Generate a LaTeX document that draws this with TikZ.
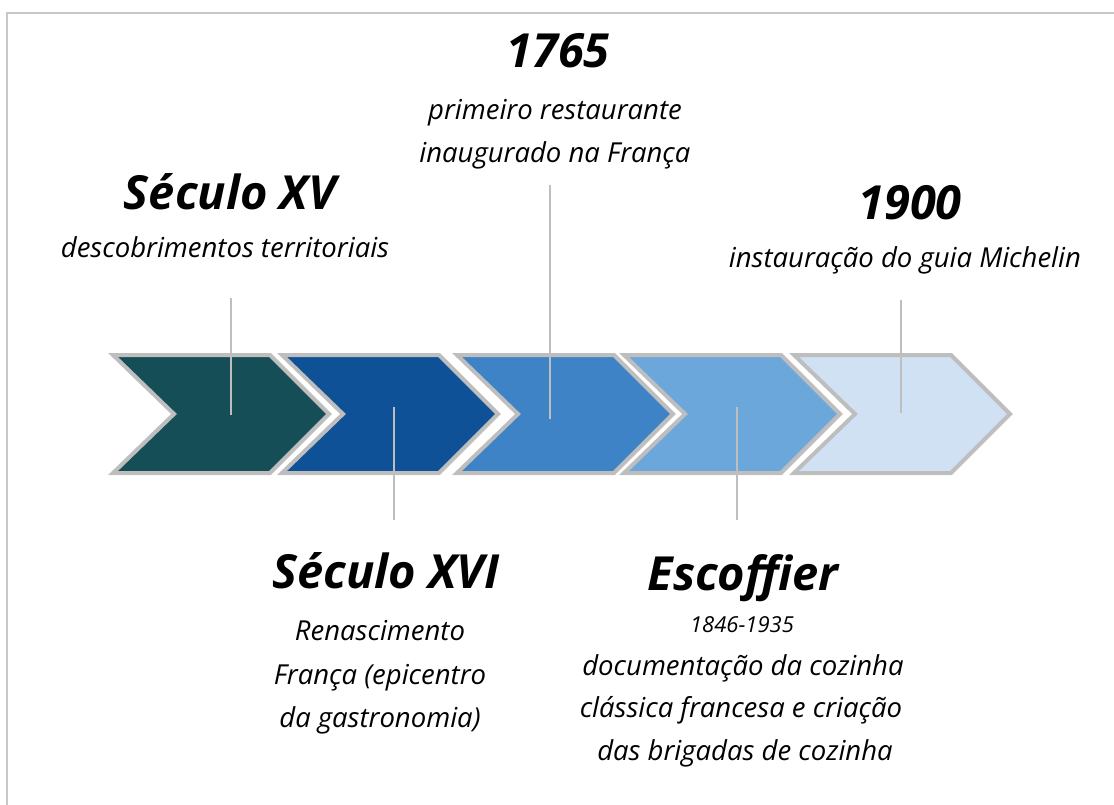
\documentclass[tikz,border=0pt]{standalone}
\usepackage{fontspec}
\setmainfont{Open Sans}
\definecolor{cA}{HTML}{164E57}
\definecolor{cB}{HTML}{0E5196}
\definecolor{cC}{HTML}{3D83C6}
\definecolor{cD}{HTML}{6CA7DC}
\definecolor{cE}{HTML}{CFE1F2}
\definecolor{edge}{HTML}{BEBEBE}
\definecolor{frame}{HTML}{C8C8C8}
\begin{document}
\begin{tikzpicture}[x=1pt,y=-1pt,
  chev/.style={draw=edge,line width=4pt,line join=miter},
  leader/.style={draw=edge,line width=2.5pt},
  head/.style={inner sep=0pt,anchor=base,font=\fontsize{47}{50}\selectfont\bfseries\itshape},
  headS/.style={inner sep=0pt,anchor=base,font=\fontsize{47}{50}\selectfont\bfseries\itshape},
  body/.style={inner sep=0pt,anchor=base,font=\fontsize{27.5}{30}\selectfont\itshape},
  small/.style={inner sep=0pt,anchor=base,font=\fontsize{22}{25}\selectfont\itshape}]
\useasboundingbox (0,0) rectangle (1114,805);
% frame
\draw[frame,line width=2pt] (7,805) -- (7,13) -- (1114,13);
% chevrons
\foreach \L/\c in {113/cA,282/cB,457/cC,624/cD,794/cE}{
  \filldraw[chev,fill=\c] (\L,355) -- (\L+157,355) -- (\L+216,414) -- (\L+157,473) -- (\L,473) -- (\L+61,414) -- cycle;
}
% leader coordinates
\coordinate (l1a) at (231,298); \coordinate (l1b) at (231,415);
\coordinate (l2a) at (394,407); \coordinate (l2b) at (394,520);
\coordinate (l3a) at (550,185); \coordinate (l3b) at (550,419);
\coordinate (l4a) at (737,407); \coordinate (l4b) at (737,520);
\coordinate (l5a) at (901,300); \coordinate (l5b) at (901,413);
\draw[leader] (l1a) -- (l1b);
\draw[leader] (l2a) -- (l2b);
\draw[leader] (l3a) -- (l3b);
\draw[leader] (l4a) -- (l4b);
\draw[leader] (l5a) -- (l5b);
% texts
\node[head] (t1) at (230,210) {Século XV};
\node[body] (t1a) at (225,258) {descobrimentos territoriais};
\node[headS] (t3) at (558,68) {1765};
\node[body] (t3a) at (555,120) {primeiro restaurante};
\node[body] (t3b) at (555,163) {inaugurado na França};
\node[headS] (t5) at (910,220) {1900};
\node[body] (t5a) at (905,268) {instauração do guia Michelin};
\node[head] (t2) at (386,588) {Século XVI};
\node[body] (t2a) at (380,640) {Renascimento};
\node[body] (t2b) at (380,684) {França (epicentro};
\node[body] (t2c) at (380,727) {da gastronomia)};
\node[head] (t4) at (743,590) {Escoffier};
\node[small] (t4a) at (742,632) {1846-1935};
\node[body] (t4b) at (743,675) {documentação da cozinha};
\node[body] (t4c) at (741,717) {clássica francesa e criação};
\node[body] (t4d) at (745,760) {das brigadas de cozinha};
\end{tikzpicture}
\end{document}
